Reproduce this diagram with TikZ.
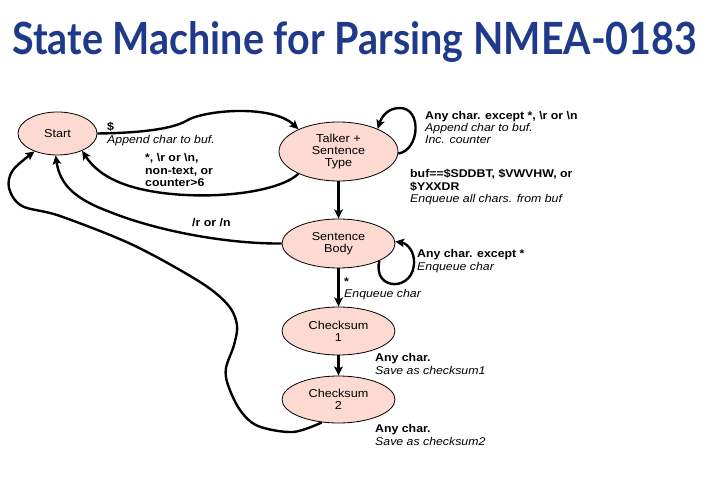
\documentclass[tikz,border=0pt]{standalone}
\usepackage{graphicx}
\usepackage{fontspec}
\setmainfont{Liberation Sans}
\newfontfamily\titlefont{Lato}
\newfontfamily\labfont[FakeStretch=1.1]{Liberation Sans}
\usetikzlibrary{shapes.geometric,arrows.meta}
\definecolor{titleblue}{RGB}{31,58,138}
\definecolor{statefill}{RGB}{252,217,209}
\begin{document}
\begin{tikzpicture}[x=1pt,y=-1pt,
  state/.style={ellipse,draw=black,line width=0.8pt,fill=statefill,inner sep=0pt,align=center,
    font=\labfont\fontsize{11.5}{12}\selectfont},
  edge/.style={line width=2.4pt,-{Stealth[length=9pt,width=8.5pt,inset=2pt]}},
  lab/.style={anchor=north west,align=left,inner sep=0pt,font=\labfont\fontsize{11.2}{12.3}\selectfont}]
\useasboundingbox (0,0) rectangle (714,486);
\node[anchor=north west,inner sep=0pt,text=titleblue] (title) at (12,21)
  {\resizebox*{685pt}{41pt}{\titlefont\bfseries State Machine for Parsing NMEA-0183}};

\node[state,minimum width=79pt,minimum height=43pt] (start) at (57.5,133.5) {Start};
\node[state,minimum width=119pt,minimum height=59pt] (talker) at (338.5,151.5) {Talker +\\Sentence\\Type};
\node[state,minimum width=113pt,minimum height=49pt] (body) at (338.5,243.5) {Sentence\\Body};
\node[state,minimum width=113pt,minimum height=48pt] (c1) at (338.5,331) {Checksum\\1};
\node[state,minimum width=113pt,minimum height=47pt] (c2) at (338.5,399.5) {Checksum\\2};

% Start -> Talker
\draw[edge] (start.east) .. controls (140,133) and (172,129) .. (186,121)
  .. controls (203,110) and (272,104) .. (talker.151);
% Talker -> Start
\draw[edge] (talker.209) .. controls (272,199) and (160,204) .. (112,179)
  .. controls (98,172) and (90,163) .. (start.-35);
% Talker self loop
\draw[edge] (talker.-2) .. controls (420,150) and (422,108) .. (400,108)
  .. controls (388,108) and (382,116) .. (talker.30);
% Talker -> Body
\draw[edge] (talker.south) -- (body.north);
% Body -> Start
\draw[edge] (body.west) .. controls (230,244) and (160,232) .. (110,212)
  .. controls (75,199) and (60,185) .. (start.-95);
% Body self loop
\draw[edge] (body.-23) .. controls (372,292) and (416,292) .. (414,260)
  .. controls (413,248) and (405,243) .. (body.2);
% Body -> C1
\draw[edge] (body.south) -- (c1.north);
% C1 -> C2
\draw[edge] (c1.south) -- (c2.north);
% C2 -> Start
\draw[edge] plot[smooth,tension=0.55] coordinates {(c2.234) (293,432) (258,426) (240,410) (228,385)
  (226,368) (234,345) (237,325) (228,305) (200,282) (133,245) (60,216) (22,206) (9,188) (13,170) (start.218)};

% labels (north west = first baseline - 8.6)
\node[lab] (l1) at (107,122.4) {\textbf{\$}\\\textit{Append char to buf.}};
\node[lab] (l2) at (145,153.4) {\textbf{*, \textbackslash r or \textbackslash n,}\\\textbf{non-text, or}\\\textbf{counter>6}};
\node[lab] (l3) at (425,110.9) {\textbf{Any char. except *, \textbackslash r or \textbackslash n}\\\textit{Append char to buf.}\\\textit{Inc. counter}};
\node[lab] (l4) at (410,169.4) {\textbf{buf==\$SDDBT, \$VWVHW, or}\\\textbf{\$YXXDR}\\\textit{Enqueue all chars. from buf}};
\node[lab] (l5) at (192,218.4) {\textbf{/r or /n}};
\node[lab] (l6) at (417,249.4) {\textbf{Any char. except *}\\\textit{Enqueue char}};
\node[lab] (l7) at (344,277.4) {\textbf{*}\\\textit{Enqueue char}};
\node[lab] (l8) at (375,353.4) {\textbf{Any char.}\\\textit{Save as checksum1}};
\node[lab] (l9) at (375,424.4) {\textbf{Any char.}\\\textit{Save as checksum2}};
\end{tikzpicture}
\end{document}
